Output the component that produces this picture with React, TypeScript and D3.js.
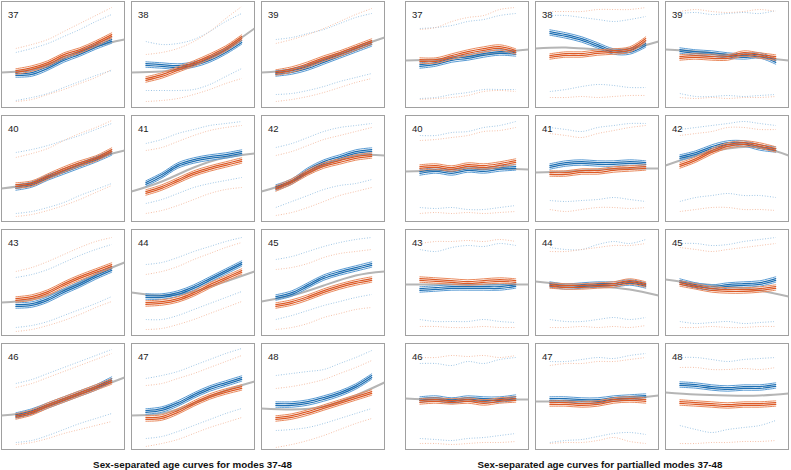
import React from 'react';
import * as d3 from 'd3';

const modes = [37, 38, 39, 40, 41, 42, 43, 44, 45, 46, 47, 48];
const ages = [20, 30, 40, 50, 60, 70, 80];
const greyAges = [11, 30, 50, 70, 88];
const groupTitles = [
  'Sex-separated age curves for modes 37-48',
  'Sex-separated age curves for partialled modes 37-48',
];

// ---- Sex-separated (raw) modes ----
const sexGrey = [
  [29, 32, 43, 55, 62], [29, 30, 36, 53, 73], [29, 32, 42, 54, 64],
  [27, 32, 44, 57, 65], [24, 34, 48, 58, 62], [24, 34, 50, 60, 60],
  [27, 30, 40, 55, 67], [37, 34, 38, 48, 58], [28, 34, 44, 54, 58],
  [28, 32, 43, 55, 66], [28, 30, 40, 53, 62], [35, 34, 37, 48, 61],
];
const sexBlue = [
  [27, 28, 34, 42, 48, 55, 61], [37, 36, 35, 37, 42, 50, 60], [28, 30, 34, 40, 46, 52, 58],
  [28, 31, 38, 44, 50, 56, 63], [32, 40, 50, 55, 58, 60, 63], [28, 34, 45, 53, 58, 63, 65],
  [24, 25, 30, 38, 45, 53, 60], [33, 33, 36, 42, 50, 58, 66], [32, 36, 44, 52, 57, 61, 65],
  [28, 32, 38, 44, 50, 56, 64], [32, 34, 40, 48, 55, 60, 65], [39, 39, 41, 45, 50, 57, 67],
];
const sexOrange = [
  [30, 33, 38, 46, 51, 58, 66], [22, 26, 32, 38, 45, 53, 64], [29, 32, 37, 43, 48, 54, 60],
  [30, 32, 39, 46, 52, 57, 65], [23, 28, 35, 42, 47, 51, 55], [27, 34, 43, 50, 54, 58, 60],
  [30, 32, 37, 45, 52, 58, 64], [26, 27, 30, 36, 44, 51, 58], [24, 27, 32, 38, 43, 47, 50],
  [27, 31, 38, 44, 50, 56, 62], [25, 26, 32, 40, 47, 52, 56], [25, 27, 31, 36, 41, 46, 51],
];
const sexBlueHi = [
  [49, 53, 58, 65, 72, 80, 87], [60, 57, 58, 62, 70, 80, 88], [62, 64, 68, 72, 78, 84, 88],
  [63, 66, 70, 75, 80, 86, 92], [72, 76, 82, 86, 90, 92, 94], [68, 72, 78, 84, 88, 90, 92],
  [52, 55, 60, 67, 74, 80, 85], [65, 67, 72, 78, 83, 88, 92], [70, 73, 78, 83, 87, 90, 92],
  [60, 64, 70, 76, 82, 88, 94], [65, 68, 72, 78, 84, 90, 95], [68, 70, 72, 74, 80, 86, 93],
];
const sexOrangeHi = [
  [53, 57, 62, 70, 78, 86, 94], [47, 49, 53, 60, 70, 83, 95], [58, 62, 67, 73, 80, 87, 93],
  [58, 62, 67, 75, 82, 88, 95], [65, 68, 74, 80, 85, 88, 90], [60, 64, 70, 76, 80, 84, 88],
  [58, 62, 68, 75, 82, 88, 92], [55, 58, 63, 70, 76, 82, 87], [60, 62, 66, 72, 76, 78, 80],
  [56, 60, 66, 72, 78, 84, 90], [58, 60, 65, 70, 76, 82, 88], [55, 57, 60, 64, 70, 76, 83],
];
const sexBlueLo = [
  [1, 4, 8, 14, 20, 26, 31], [11, 11, 11, 12, 17, 25, 33], [7, 8, 11, 15, 20, 24, 28],
  [2, 4, 8, 13, 20, 26, 32], [12, 16, 22, 28, 32, 35, 38], [8, 14, 20, 26, 30, 32, 36],
  [2, 4, 8, 14, 20, 26, 33], [10, 10, 14, 20, 26, 32, 38], [10, 14, 19, 24, 28, 32, 35],
  [1, 3, 8, 14, 20, 25, 30], [5, 7, 12, 18, 24, 30, 35], [13, 14, 16, 20, 25, 30, 35],
];
const sexOrangeLo = [
  [0, 2, 7, 12, 18, 24, 32], [0, 1, 3, 7, 12, 18, 23], [0, 2, 5, 9, 14, 19, 23],
  [-1, 1, 5, 10, 16, 23, 30], [2, 5, 10, 16, 22, 26, 28], [0, 3, 8, 14, 20, 24, 28],
  [-2, 0, 4, 9, 15, 22, 28], [0, 1, 5, 10, 16, 22, 28], [0, 2, 6, 12, 16, 20, 22],
  [-1, 1, 5, 10, 14, 18, 22], [-3, 0, 4, 10, 16, 21, 26], [-4, -1, 3, 8, 14, 20, 25],
];

// ---- Partialled modes ----
const partGrey = [
  [41, 42, 45, 49, 52], [53, 54, 52, 53, 60], [52, 50, 47, 44, 41],
  [44, 45, 47, 47, 46], [43, 44, 46, 47, 47], [50, 60, 67, 68, 60],
  [45, 45, 45, 45, 45], [48, 45, 43, 40, 34], [50, 46, 43, 39, 33],
  [45, 44, 44, 44, 44], [42, 42, 43, 45, 48], [51, 49, 48, 48, 50],
];
const partBlue = [
  [36, 38, 42, 44, 47, 49, 48], [69, 66, 62, 56, 50, 50, 57], [51, 49, 48, 46, 45, 46, 40],
  [43, 45, 43, 46, 45, 47, 48], [49, 52, 53, 52, 52, 53, 52], [58, 62, 68, 72, 72, 68, 66],
  [40, 41, 42, 42, 42, 42, 44], [45, 43, 44, 45, 45, 47, 44], [48, 44, 42, 44, 45, 46, 50],
  [44, 45, 43, 45, 44, 44, 46], [44, 44, 43, 43, 45, 46, 47], [59, 58, 56, 55, 56, 56, 58],
];
const partOrange = [
  [41, 41, 45, 49, 52, 54, 50], [45, 47, 47, 49, 50, 52, 62], [44, 45, 44, 44, 48, 46, 44],
  [48, 49, 47, 50, 49, 51, 54], [42, 42, 44, 44, 46, 47, 48], [50, 56, 64, 70, 72, 70, 66],
  [50, 49, 48, 47, 48, 49, 48], [44, 43, 43, 44, 45, 48, 45], [46, 43, 40, 39, 39, 40, 42],
  [42, 43, 42, 43, 41, 43, 44], [40, 40, 39, 40, 43, 44, 43], [41, 40, 39, 38, 39, 39, 40],
];
const partBlueHi = [
  [73, 74, 76, 80, 82, 86, 88], [86, 86, 84, 82, 80, 82, 85], [88, 89, 87, 88, 89, 88, 91],
  [80, 80, 83, 84, 88, 90, 94], [88, 86, 84, 88, 90, 92, 92], [86, 88, 90, 92, 94, 92, 90],
  [80, 78, 82, 84, 83, 86, 84], [82, 80, 80, 85, 88, 86, 90], [86, 86, 84, 85, 88, 90, 92],
  [80, 80, 78, 82, 80, 84, 86], [82, 82, 84, 86, 85, 88, 90], [86, 86, 84, 82, 84, 85, 86],
];
const partOrangeHi = [
  [72, 74, 80, 84, 86, 92, 94], [90, 90, 90, 92, 92, 92, 94], [90, 92, 90, 89, 90, 92, 90],
  [75, 76, 78, 80, 84, 85, 88], [82, 80, 78, 82, 85, 88, 90], [80, 82, 84, 88, 88, 86, 86],
  [86, 88, 88, 89, 88, 90, 88], [78, 78, 80, 82, 84, 84, 86], [82, 80, 78, 80, 82, 84, 86],
  [86, 86, 88, 87, 88, 86, 88], [78, 80, 80, 82, 82, 84, 86], [76, 76, 74, 74, 75, 74, 76],
];
const partBlueLo = [
  [3, 4, 7, 9, 12, 12, 12], [10, 12, 15, 17, 16, 14, 14], [8, 5, 5, 6, 5, 6, 7],
  [8, 7, 8, 6, 6, 8, 10], [15, 14, 15, 16, 18, 16, 14], [14, 18, 20, 22, 20, 20, 18],
  [10, 8, 8, 8, 10, 8, 7], [10, 8, 8, 10, 12, 10, 12], [8, 6, 7, 8, 6, 7, 8],
  [5, 4, 3, 5, 6, 8, 10], [1, 3, 4, 7, 10, 11, 9], [18, 14, 11, 14, 16, 18, 23],
];
const partOrangeLo = [
  [2, 3, 4, 6, 10, 11, 10], [4, 4, 5, 4, 5, 6, 6], [4, 3, 4, 3, 4, 4, 5],
  [2, 3, 2, 3, 2, 3, 4], [6, 4, 6, 8, 8, 7, 8], [4, 6, 8, 8, 6, 6, 5],
  [3, 3, 2, 2, 3, 2, 2], [2, 2, 3, 2, 3, 2, 4], [2, 2, 3, 2, 2, 3, 3],
  [0, 0, -1, 0, 1, 1, 2], [0, 1, 1, 3, 6, 2, 0], [0, 0, 1, 1, 2, 2, 3],
];

// ---- layout / style ----
const PW = 123;
const PH = 107;
const colX = [1, 131, 261];
const groupDX = [0, 404];
const rowY = [1, 115, 229, 343];
const BLUE = '#1f6fb2';
const BLUE_LIGHT = '#5a9bd3';
const ORANGE = '#dc5a26';
const ORANGE_LIGHT = '#e98a5e';
const BLUE_DOT = '#8dbbe0';
const ORANGE_DOT = '#f3b497';
const GREY = '#b5b5b5';
const BAND_OUTER = [-2.7, 2.7];
const BAND_INNER = [-0.9, 0.9];

const xS = d3.scaleLinear().domain([11, 88]).range([0, PW]);
const yS = d3.scaleLinear().domain([-7, 100]).range([PH, 0]);

const mainLine = (off: number) =>
  d3.line<number>()
    .x((_, i) => xS(ages[i]))
    .y((d) => yS(d + off))
    .curve(d3.curveCatmullRom.alpha(0.5));
const greyLine = d3.line<number>()
  .x((_, i) => xS(greyAges[i]))
  .y((d) => yS(d))
  .curve(d3.curveNatural);

type PanelProps = {
  id: string; mode: number; tx: number; ty: number;
  grey: number[]; blue: number[]; orange: number[];
  bHi: number[]; oHi: number[]; bLo: number[]; oLo: number[];
};

function Band({ data, color, light }: { data: number[]; color: string; light: string }) {
  return (
    <g fill="none" strokeLinecap="round" strokeLinejoin="round">
      {BAND_OUTER.map((o) => (
        <path key={`o${o}`} d={mainLine(o)(data) || ''} stroke={light} strokeWidth={1} />
      ))}
      {BAND_INNER.map((o) => (
        <path key={`i${o}`} d={mainLine(o)(data) || ''} stroke={color} strokeWidth={1.2} />
      ))}
    </g>
  );
}

function Panel(p: PanelProps) {
  const dotted = (data: number[], c: string, k: string) => (
    <path key={k} d={mainLine(0)(data) || ''} fill="none" stroke={c} strokeWidth={0.9} strokeDasharray="0.9 1.7" />
  );
  return (
    <g transform={`translate(${p.tx + 0.5},${p.ty + 0.5})`}>
      <clipPath id={p.id}>
        <rect x={0} y={0} width={PW} height={PH - 1} />
      </clipPath>
      <rect x={0} y={0} width={PW} height={PH - 1} fill="#fff" stroke="#a0a0a0" strokeWidth={1} />
      <g clipPath={`url(#${p.id})`}>
        {dotted(p.bHi, BLUE_DOT, 'bh')}
        {dotted(p.oHi, ORANGE_DOT, 'oh')}
        {dotted(p.bLo, BLUE_DOT, 'bl')}
        {dotted(p.oLo, ORANGE_DOT, 'ol')}
        <path d={greyLine(p.grey) || ''} fill="none" stroke={GREY} strokeWidth={2} />
        <Band data={p.blue} color={BLUE} light={BLUE_LIGHT} />
        <Band data={p.orange} color={ORANGE} light={ORANGE_LIGHT} />
      </g>
      <text x={6.5} y={16} fontSize={9.5} fontFamily="'Liberation Sans', Arial, sans-serif" fill="#222">
        {p.mode}
      </text>
    </g>
  );
}

export default function App() {
  const groups = [
    { grey: sexGrey, blue: sexBlue, orange: sexOrange, bHi: sexBlueHi, oHi: sexOrangeHi, bLo: sexBlueLo, oLo: sexOrangeLo },
    { grey: partGrey, blue: partBlue, orange: partOrange, bHi: partBlueHi, oHi: partOrangeHi, bLo: partBlueLo, oLo: partOrangeLo },
  ];
  return (
    <svg width={791} height={470} style={{ position: 'absolute', left: 0, top: 0, background: '#fff' }}>
      {groups.map((g, gi) => (
        <g key={gi}>
          {modes.map((m, i) => (
            <Panel
              key={m}
              id={`clip-${gi}-${i}`}
              mode={m}
              tx={colX[i % 3] + groupDX[gi]}
              ty={rowY[Math.floor(i / 3)]}
              grey={g.grey[i]} blue={g.blue[i]} orange={g.orange[i]}
              bHi={g.bHi[i]} oHi={g.oHi[i]} bLo={g.bLo[i]} oLo={g.oLo[i]}
            />
          ))}
          <text
            x={gi === 0 ? 192.5 : 600}
            y={467.5}
            textAnchor="middle"
            fontSize={9.8}
            fontWeight="bold"
            fontFamily="'Liberation Sans', Arial, sans-serif"
            fill="#111"
          >
            {groupTitles[gi]}
          </text>
        </g>
      ))}
    </svg>
  );
}
